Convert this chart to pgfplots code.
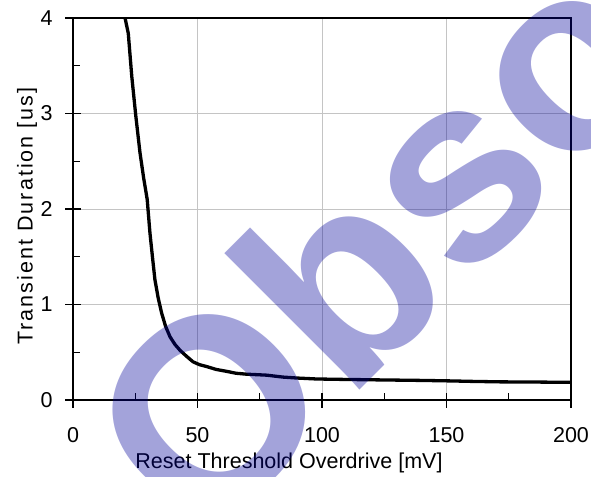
\documentclass[border=0pt]{standalone}
\usepackage{pgfplots}
\pgfplotsset{compat=1.18}
\usepackage{fontspec}
\setmainfont{Liberation Sans}
\newfontfamily\wmfont{Liberation Sans}
\definecolor{wmblue}{RGB}{0,0,153}
\definecolor{gridgray}{RGB}{196,196,196}
\begin{document}
\fontsize{21.5bp}{25bp}\selectfont
\begin{tikzpicture}
\begin{axis}[
  scale only axis, width=498bp, height=382bp,
  xmin=0, xmax=200, ymin=0, ymax=4,
  xtick={0,50,100,150,200}, ytick={0,1,2,3,4},
  xtick pos=bottom, ytick pos=left,
  tick align=center, major tick length=15bp,
  grid=major, major grid style={color=gridgray, line width=0.9bp},
  axis line style={line width=1.4bp}, tick style={black, line width=1.4bp},
  /pgf/number format/assume math mode=true,
  ticklabel style={font=\fontsize{21.5bp}{25bp}\selectfont},
  xticklabel style={yshift=-12.5bp},
  yticklabel style={xshift=-5.5bp},
  label style={font=\fontsize{21.5bp}{25bp}\selectfont},
  xlabel={Reset Threshold Overdrive [mV]},
  ylabel={\addfontfeature{LetterSpace=9.5}Transient Duration [us]},
  xlabel style={at={(axis description cs:0.4337,0)}, anchor=base, yshift=-68bp},
  ylabel style={at={(axis description cs:-0.0924,0.4817)}, anchor=center},
]
\addplot[black, line width=3.3bp, line join=round] coordinates {
(20.5,4.1) (20.9,4.0) (22.2,3.84) (23.6,3.39) (25.2,2.98) (26.9,2.59) (28.4,2.32) (29.8,2.10)
(30.9,1.75) (31.9,1.50) (32.9,1.26) (34.2,1.07) (35.6,0.91) (37.2,0.77) (39.0,0.66)
(41.0,0.58) (43.0,0.52) (45.5,0.46) (48.2,0.40) (50.8,0.37) (53.7,0.35) (57.5,0.32)
(61.7,0.30) (65.5,0.28) (69.8,0.27) (74,0.265) (77.8,0.26) (84.3,0.24) (90,0.23) (97.9,0.22)
(110,0.215) (124.5,0.21) (140,0.205) (151.4,0.20) (160,0.195) (171.5,0.19) (185,0.188) (200,0.185)
};
\end{axis}
\begin{axis}[
  scale only axis, width=498bp, height=382bp,
  xmin=0, xmax=200, ymin=0, ymax=4,
  xtick={25,75,125,175}, ytick={0.5,1.5,2.5,3.5},
  xticklabels={}, yticklabels={},
  xtick pos=bottom, ytick pos=left,
  tick align=inside, major tick length=7bp,
  axis line style={draw=none}, tick style={black, line width=1.4bp},
]
\end{axis}
\node[rotate=45, anchor=base west, inner sep=0pt, text=wmblue, text opacity=0.36,
  font=\wmfont\bfseries\fontsize{265bp}{265bp}\selectfont] at (128.7bp,-148.2bp) {Obsolete};
\pgfresetboundingbox
\path (-73bp,-77bp) rectangle (518bp,400bp);
\end{tikzpicture}
\end{document}
